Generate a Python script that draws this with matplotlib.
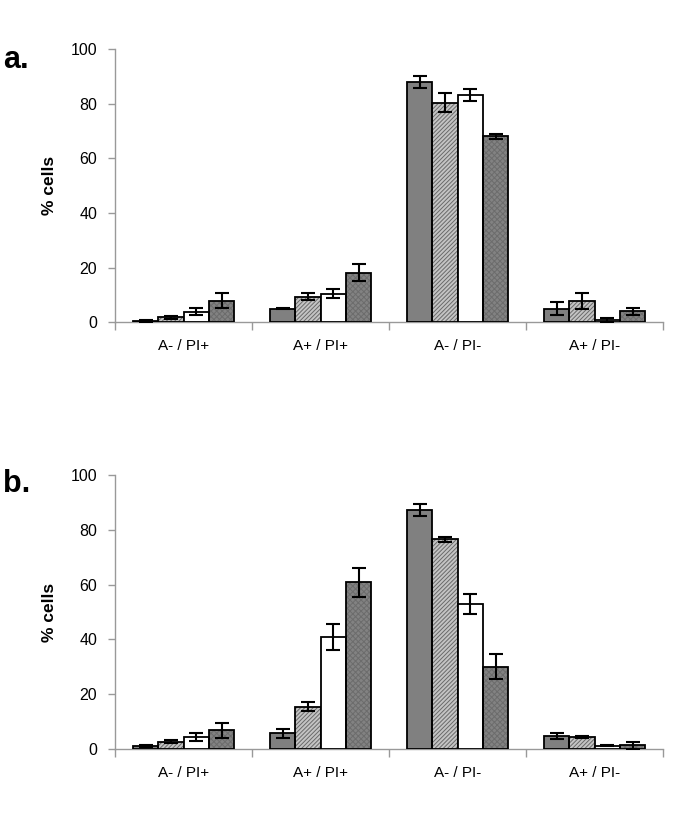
import matplotlib
matplotlib.use('Agg')
import matplotlib.pyplot as plt
import numpy as np

plt.rcParams['font.family'] = ['Liberation Sans', 'DejaVu Sans']
plt.rcParams['hatch.linewidth'] = 0.7

categories = ['A- / PI+', 'A+ / PI+', 'A- / PI-', 'A+ / PI-']

# panel a: 4 series per category
a_vals = [[0.5, 5.0, 88.0, 5.0],
          [1.8, 9.4, 80.3, 7.9],
          [3.9, 10.5, 83.1, 0.7],
          [7.9, 18.2, 68.0, 4.0]]
a_errs = [[0.3, 0.3, 2.2, 2.5],
          [0.5, 1.3, 3.5, 3.0],
          [1.3, 1.7, 2.1, 0.7],
          [2.7, 3.1, 1.0, 1.3]]

# panel b
b_vals = [[1.1, 5.8, 87.3, 4.7],
          [2.7, 15.5, 76.5, 4.4],
          [4.4, 40.9, 52.9, 1.3],
          [6.9, 60.9, 30.1, 1.4]]
b_errs = [[0.3, 1.7, 2.2, 1.2],
          [0.5, 1.5, 1.0, 0.5],
          [1.6, 4.6, 3.8, 0.3],
          [2.7, 5.3, 4.4, 1.2]]

# face, hatch, hatch color
styles = [('#808080', None, None),
          ('#c4c4c4', '////////', '#6a6a6a'),
          ('#ffffff', None, None),
          ('#828282', 'xxxxxx', '#6c6c6c')]

fig = plt.figure(figsize=(6.85, 8.16), dpi=100)
ax_a = fig.add_axes([0.168, 0.605, 0.800, 0.335])
ax_b = fig.add_axes([0.168, 0.082, 0.800, 0.336])

w = 0.185
x = np.arange(len(categories))

def draw(ax, vals, errs):
    for i in range(4):
        pos = x + (i - 1.5) * w
        face, hatch, hc = styles[i]
        if hatch:
            ax.bar(pos, vals[i], w, color=face, hatch=hatch, edgecolor=hc, lw=0, zorder=2)
            ax.bar(pos, vals[i], w, fill=False, edgecolor='black', lw=1.3, zorder=3)
        else:
            ax.bar(pos, vals[i], w, color=face, edgecolor='black', lw=1.3, zorder=3)
        ax.errorbar(pos, vals[i], yerr=errs[i], fmt='none', ecolor='black',
                    elinewidth=1.5, capsize=5, capthick=1.5, zorder=4)
    ax.set_xlim(-0.5, 3.5)
    ax.set_ylim(0, 100)
    ax.set_yticks(range(0, 101, 20))
    ax.set_xticks(x)
    ax.set_xticklabels(categories)
    ax.set_xticks(np.arange(-0.5, 3.6, 1), minor=True)
    ax.tick_params(axis='x', which='major', length=0, pad=12, labelsize=11)
    ax.tick_params(axis='x', which='minor', length=6, color='#999999', width=1)
    ax.tick_params(axis='y', length=5, color='#999999', width=1, labelsize=11.5, pad=8)
    for s in ['top', 'right']:
        ax.spines[s].set_visible(False)
    for s in ['left', 'bottom']:
        ax.spines[s].set_color('#999999')
        ax.spines[s].set_linewidth(1)
    ax.set_ylabel('% cells', fontweight='bold', fontsize=12.5, labelpad=10)

draw(ax_a, a_vals, a_errs)
draw(ax_b, b_vals, b_errs)

fig.text(0.005, 0.917, 'a.', fontsize=22, fontweight='bold')
fig.text(0.005, 0.397, 'b.', fontsize=22, fontweight='bold')

plt.savefig('out.png', dpi=100)
plt.close()
